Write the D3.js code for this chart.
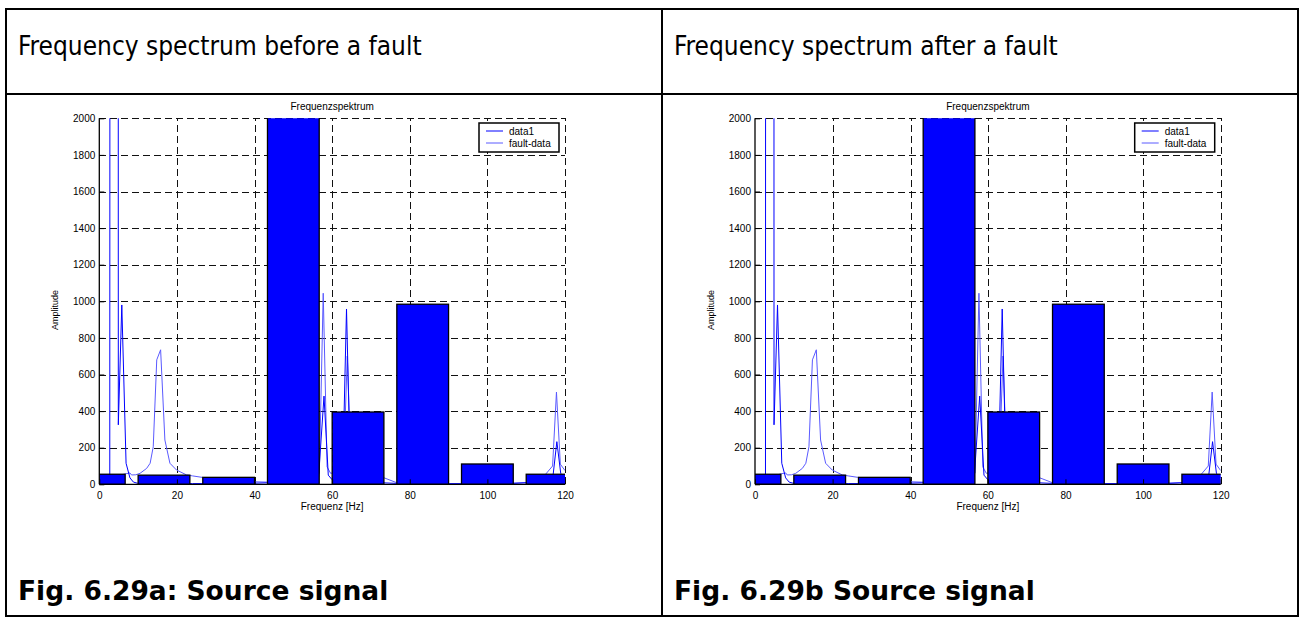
<!DOCTYPE html>
<html>
<head>
<meta charset="utf-8">
<script src="https://cdn.jsdelivr.net/npm/d3@7"></script>
<style>
  html, body { margin: 0; padding: 0; background: #fff; }
  svg { display: block; }
</style>
</head>
<body>
<svg id="fig" width="1308" height="623"></svg>
<script>
// ---------------- DATA ----------------
const panelTitles = ["Frequency spectrum before a fault", "Frequency spectrum after a fault"];
const panelCaptions = ["Fig. 6.29a: Source signal", "Fig. 6.29b Source signal"];
const chartTitle = "Frequenzspektrum";
const xAxisLabel = "Frequenz [Hz]";
const yAxisLabel = "Amplitude";
const legendLabels = ["data1", "fault-data"];

const xTicks = [0, 20, 40, 60, 80, 100, 120];
const yTicks = [0, 200, 400, 600, 800, 1000, 1200, 1400, 1600, 1800, 2000];

// bar chart (bands) : centre frequency [Hz] and amplitude
const barCenterHz = [0, 16.67, 33.33, 50, 66.67, 83.33, 100, 116.67];
const barAmp      = [55, 50, 38, 2300, 395, 984, 111, 55];
const barWidthHz  = 13.33;

// line "data1"
const data1Freq = [0, 1.0, 1.95, 2.7, 2.8, 3.8, 4.85, 4.9, 5.8, 6.9, 7.9, 8.8, 9.8, 12, 16, 20, 24, 28, 32, 36, 40, 43, 47, 52, 56.5, 57.9, 59.0, 60, 62.7, 63.7, 64.7, 67, 70, 73.3, 76.6, 80, 85, 90, 93, 97, 100, 104, 106.5, 110, 113, 116.9, 117.9, 118.9, 120];
const data1Amp  = [3, 3, 4, 5, 8000, 15000, 8000, 325, 980, 115, 35, 12, 6, 5, 4, 4, 4, 4, 4, 5, 6, 8, 12, 20, 40, 482, 50, 25, 40, 958, 60, 25, 15, 8, 5, 4, 3, 3, 3, 3, 4, 4, 5, 8, 15, 45, 233, 60, 35];

// line "fault-data"
const faultFreq = [0, 2, 4, 6, 6.9, 7.9, 8.3, 9.4, 10.5, 12.2, 13.1, 13.9, 14.8, 15.8, 16.9, 18.2, 19.9, 22.5, 24, 26.5, 30, 35, 40, 43, 47, 52, 55, 56.7, 57.7, 58.7, 59.6, 62.9, 63.9, 64.9, 68, 71, 73.3, 76.6, 80, 85, 90, 95, 100, 106.5, 110, 114, 116.8, 117.8, 118.8, 120];
const faultAmp  = [45, 48, 50, 53, 58, 62, 51, 52, 60, 87, 115, 205, 680, 735, 242, 115, 78, 51, 46, 38, 30, 22, 14, 12, 15, 25, 45, 60, 1044, 95, 60, 70, 701, 80, 55, 42, 36, 9, 6, 5, 4, 4, 5, 6, 10, 30, 100, 504, 110, 75];

// ---------------- LAYOUT ----------------
const W = 1308, H = 623;
const table = { left: 6, right: 1298, top: 9, bottom: 616, mid: 662, row: 94 };
const panelOffsets = [0, 655.7];
const plot = { x0: 99.3, x1: 565, y0: 484.3, y1: 118.3 };
const colors = { data1: "#0000ff", fault: "#5a5aff", bar: "#0000ff" };

const svg = d3.select("#fig");
svg.append("rect").attr("width", W).attr("height", H).attr("fill", "#fff");

// table frame
const tg = svg.append("g").attr("stroke", "#000").attr("stroke-width", 2).attr("fill", "none");
tg.append("rect").attr("x", table.left).attr("y", table.top)
  .attr("width", table.right - table.left).attr("height", table.bottom - table.top);
tg.append("line").attr("x1", table.mid).attr("x2", table.mid).attr("y1", table.top).attr("y2", table.bottom);
tg.append("line").attr("x1", table.left).attr("x2", table.right).attr("y1", table.row).attr("y2", table.row);

// titles & captions
const cellX = [table.left, table.mid];
panelTitles.forEach((t, i) => {
  svg.append("text").attr("x", cellX[i] + 12).attr("y", 55)
    .attr("font-family", "'DejaVu Sans Condensed', 'DejaVu Sans', sans-serif")
    .attr("font-size", 26).attr("fill", "#000").text(t);
});
panelCaptions.forEach((t, i) => {
  svg.append("text").attr("x", cellX[i] + 12).attr("y", 600)
    .attr("font-family", "'DejaVu Sans', sans-serif").attr("font-weight", "bold")
    .attr("font-size", 26.5).attr("fill", "#000").text(t);
});

// ---------------- CHART ----------------
const x = d3.scaleLinear().domain([0, 120]).range([plot.x0, plot.x1]);
const y = d3.scaleLinear().domain([0, 2000]).range([plot.y0, plot.y1]);

function drawChart(dx, idx) {
  const g = svg.append("g").attr("transform", `translate(${dx},0)`);
  const clipId = "clip" + idx;
  g.append("clipPath").attr("id", clipId).append("rect")
    .attr("x", plot.x0).attr("y", plot.y1)
    .attr("width", plot.x1 - plot.x0).attr("height", plot.y0 - plot.y1);

  // grid
  const grid = g.append("g").attr("stroke", "#111").attr("stroke-width", 1)
    .attr("stroke-dasharray", "7,4").attr("shape-rendering", "crispEdges");
  grid.selectAll("line.gx").data(xTicks.filter(v => v > 0)).join("line")
    .attr("class", "gx")
    .attr("x1", d => Math.round(x(d)) + 0.5).attr("x2", d => Math.round(x(d)) + 0.5)
    .attr("y1", plot.y0).attr("y2", plot.y1);
  grid.selectAll("line.gy").data(yTicks.filter(v => v > 0)).join("line")
    .attr("class", "gy")
    .attr("x1", plot.x0).attr("x2", plot.x1)
    .attr("y1", d => Math.round(y(d)) + 0.5).attr("y2", d => Math.round(y(d)) + 0.5);

  const clipped = g.append("g").attr("clip-path", `url(#${clipId})`);
  const line = d3.line().x(d => x(d[0])).y(d => y(d[1]));

  clipped.append("path").datum(faultFreq.map((f, i) => [f, faultAmp[i]]))
    .attr("d", line).attr("fill", "none").attr("stroke", colors.fault).attr("stroke-width", 1);
  clipped.append("path").datum(data1Freq.map((f, i) => [f, data1Amp[i]]))
    .attr("d", line).attr("fill", "none").attr("stroke", colors.data1).attr("stroke-width", 1);

  // bars
  clipped.selectAll("rect.bar").data(barCenterHz.map((c, i) => ({ c, v: barAmp[i] }))).join("rect")
    .attr("class", "bar")
    .attr("x", d => x(d.c - barWidthHz / 2))
    .attr("width", d => x(d.c + barWidthHz / 2) - x(d.c - barWidthHz / 2))
    .attr("y", d => y(d.v))
    .attr("height", d => y(0) - y(d.v))
    .attr("fill", colors.bar).attr("stroke", "#000").attr("stroke-width", 1.3);

  // axes
  const xAxis = d3.axisBottom(x).tickValues(xTicks).tickSize(-5).tickPadding(8).tickFormat(d3.format("d"));
  const yAxis = d3.axisLeft(y).tickValues(yTicks).tickSize(-5).tickPadding(4).tickFormat(d3.format("d"));
  const ax = g.append("g").attr("transform", `translate(0,${plot.y0})`).call(xAxis);
  const ay = g.append("g").attr("transform", `translate(${plot.x0},0)`).call(yAxis);
  [ax, ay].forEach(a => {
    a.select(".domain").attr("stroke", "#000").attr("stroke-width", 1.3);
    a.selectAll(".tick line").attr("stroke", "#000");
    a.selectAll("text").attr("font-family", "'Liberation Sans', Arial, sans-serif")
      .attr("font-size", 10).attr("fill", "#000");
  });
  ax.select(".domain").attr("d", `M${plot.x0},0H${plot.x1}`);
  ay.select(".domain").attr("d", `M0,${plot.y0}V${plot.y1}`);

  // titles
  const cx = (plot.x0 + plot.x1) / 2;
  g.append("text").attr("x", cx).attr("y", 110).attr("text-anchor", "middle")
    .attr("font-family", "'Liberation Sans', Arial, sans-serif").attr("font-size", 10)
    .text(chartTitle);
  g.append("text").attr("x", cx).attr("y", 510).attr("text-anchor", "middle")
    .attr("font-family", "'Liberation Sans', Arial, sans-serif").attr("font-size", 10)
    .text(xAxisLabel);
  g.append("text").attr("transform", `translate(58,${310}) rotate(-90)`).attr("text-anchor", "middle")
    .attr("font-family", "'Liberation Sans', Arial, sans-serif").attr("font-size", 9)
    .text(yAxisLabel);

  // legend
  const lg = g.append("g");
  lg.append("rect").attr("x", 479).attr("y", 123).attr("width", 80).attr("height", 29)
    .attr("fill", "#fff").attr("stroke", "#000").attr("stroke-width", 1.5);
  const legColors = [colors.data1, colors.fault];
  legendLabels.forEach((lab, i) => {
    const ly = 131 + i * 12;
    lg.append("line").attr("x1", 486).attr("x2", 503).attr("y1", ly).attr("y2", ly)
      .attr("stroke", legColors[i]).attr("stroke-width", 1);
    lg.append("text").attr("x", 509).attr("y", ly + 3.5)
      .attr("font-family", "'Liberation Sans', Arial, sans-serif").attr("font-size", 10)
      .text(lab);
  });
}

panelOffsets.forEach((dx, i) => drawChart(dx, i));
</script>
</body>
</html>
